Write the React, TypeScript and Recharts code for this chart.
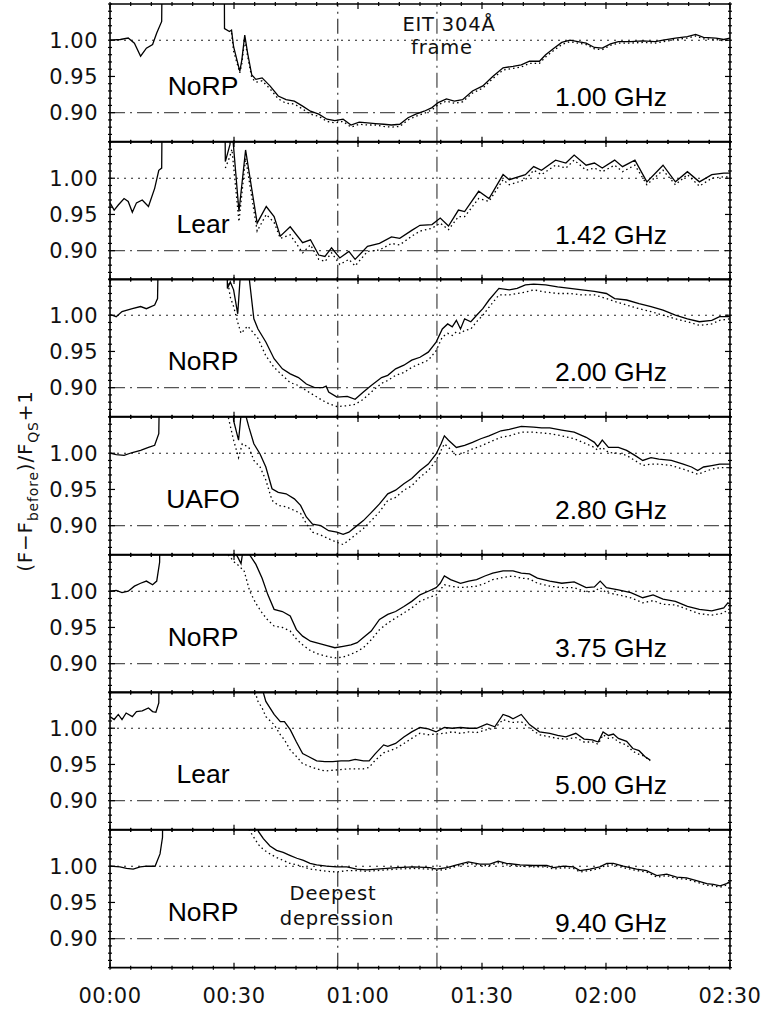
import React from "react";
import { LineChart, Line, XAxis, YAxis, ReferenceLine } from "recharts";

// time axis in minutes after 00:00, values are (F - F_before)/F_QS + 1
const xTicks = [0, 5, 10, 15, 20, 25, 30, 35, 40, 45, 50, 55, 60, 65, 70, 75, 80, 85, 90, 95, 100, 105, 110, 115, 120, 125, 130, 135, 140, 145, 150];
const xMajor = [0, 30, 60, 90, 120, 150];
const yTicks = [0.86, 0.87, 0.88, 0.89, 0.9, 0.91, 0.92, 0.93, 0.94, 0.95, 0.96, 0.97, 0.98, 0.99, 1.0, 1.01, 1.02, 1.03, 1.04, 1.05];
const yMajor = [0.9, 0.95, 1.0];
const yDomain = [0.86, 1.05];

const deepestTime = 55.1;
const eitTime = 79.1;

const observatories = ["NoRP", "Lear", "NoRP", "UAFO", "NoRP", "Lear", "NoRP"];
const frequencies = ["1.00 GHz", "1.42 GHz", "2.00 GHz", "2.80 GHz", "3.75 GHz", "5.00 GHz", "9.40 GHz"];

// 1.00 GHz
const p1Time = [0, 2.5, 4.4, 5.9, 7.4, 8.8, 10.3, 11.3, 12.5, 12.9, 27.5, 27.7, 28.9, 29.4, 29.9, 31.4, 31.9, 32.6, 33.3, 34.3, 35.3, 36.8, 38.7, 40.7, 42.6, 44.6, 46.6, 48.5, 50.5, 52.5, 54.4, 56.4, 58.3, 60.3, 62.3, 64.2, 66.2, 68.1, 70.1, 72.1, 74.0, 76.0, 77.9, 79.4, 81.4, 83.3, 85.3, 87.7, 90.2, 92.6, 95.1, 97.5, 99.5, 101.5, 103.9, 105.4, 107.4, 109.3, 111.3, 113.2, 115.2, 117.2, 119.1, 121.1, 123.0, 125.9, 128.9, 131.9, 133.8, 136.8, 139.7, 141.7, 143.6, 146.6, 148.5, 150];
const p1Solid = [1.000, 1.001, 1.003, 0.996, 0.978, 0.989, 0.994, 1.010, 1.026, 1.3, 1.3, 1.016, 1.012, 1.014, 0.991, 0.957, 0.973, 1.007, 0.982, 0.952, 0.946, 0.948, 0.937, 0.923, 0.918, 0.916, 0.909, 0.902, 0.898, 0.891, 0.889, 0.891, 0.883, 0.887, 0.886, 0.885, 0.884, 0.883, 0.884, 0.893, 0.898, 0.902, 0.907, 0.914, 0.919, 0.916, 0.918, 0.930, 0.937, 0.950, 0.962, 0.964, 0.966, 0.971, 0.971, 0.980, 0.989, 0.997, 1.000, 0.998, 0.996, 0.990, 0.989, 0.995, 0.998, 0.998, 0.999, 0.998, 1.000, 1.003, 1.005, 1.008, 1.004, 1.003, 1.001, 1.003];
const p1Dotted = [null, null, null, null, null, null, null, null, null, null, null, null, null, 1.010, 0.985, 0.955, 0.968, 1.002, 0.978, 0.948, 0.942, 0.944, 0.933, 0.919, 0.913, 0.912, 0.905, 0.898, 0.895, 0.888, 0.886, 0.888, 0.880, 0.884, 0.883, 0.883, 0.881, 0.880, 0.881, 0.890, 0.895, 0.899, 0.904, 0.911, 0.916, 0.913, 0.915, 0.927, 0.934, 0.947, 0.959, 0.961, 0.963, 0.968, 0.968, 0.977, 0.986, 0.994, 0.998, 0.996, 0.994, 0.988, 0.987, 0.993, 0.996, 0.996, 0.997, 0.996, 0.998, 1.001, 1.003, 1.006, 1.002, 1.001, 0.999, 1.001];

// 1.42 GHz
const p2Time = [0, 1.0, 2.0, 3.4, 4.4, 5.4, 6.4, 7.8, 9.3, 10.8, 11.8, 12.5, 12.9, 27.5, 27.9, 29.0, 29.5, 31.2, 32.8, 35.6, 37.8, 39.7, 41.2, 43.6, 46.6, 48.5, 50.5, 52.0, 53.6, 55.6, 57.8, 59.3, 62.3, 65.2, 68.1, 70.1, 73.0, 75.0, 77.9, 79.9, 81.9, 84.3, 85.8, 89.2, 91.7, 95.1, 96.6, 100.5, 102.5, 104.4, 107.8, 110.3, 112.3, 115.2, 117.2, 119.1, 122.1, 124.0, 127.0, 129.9, 133.8, 136.8, 139.7, 142.6, 145.6, 148.5, 150];
const p2Solid = [0.966, 0.956, 0.963, 0.972, 0.968, 0.953, 0.966, 0.970, 0.961, 0.986, 1.011, 1.014, 1.3, 1.3, 1.023, 1.046, 1.07, 0.954, 1.039, 0.938, 0.961, 0.947, 0.920, 0.933, 0.911, 0.915, 0.894, 0.892, 0.904, 0.890, 0.899, 0.888, 0.906, 0.910, 0.919, 0.917, 0.928, 0.935, 0.936, 0.945, 0.934, 0.956, 0.954, 0.982, 0.972, 1.005, 0.998, 1.005, 1.016, 1.011, 1.025, 1.021, 1.032, 1.018, 1.021, 1.014, 1.025, 1.016, 1.025, 0.995, 1.018, 0.995, 1.009, 0.995, 1.005, 1.007, 1.007];
const p2Dotted = [null, null, null, null, null, null, null, null, null, null, null, null, null, null, 1.014, 1.030, 1.040, 0.940, 1.028, 0.927, 0.950, 0.939, 0.917, 0.922, 0.897, 0.908, 0.888, 0.885, 0.897, 0.881, 0.888, 0.879, 0.899, 0.901, 0.910, 0.908, 0.920, 0.927, 0.931, 0.938, 0.929, 0.947, 0.947, 0.972, 0.968, 0.998, 0.991, 0.998, 1.011, 1.005, 1.018, 1.014, 1.025, 1.011, 1.014, 1.009, 1.018, 1.009, 1.018, 0.991, 1.011, 0.991, 1.005, 0.989, 1.000, 1.002, 1.002];

// 2.00 GHz
const p3Time = [0, 1.5, 2.9, 5.4, 7.4, 8.8, 10.8, 11.5, 12.3, 27.9, 28.4, 29.1, 29.9, 30.9, 31.7, 33.3, 34.8, 35.8, 37.7, 39.7, 41.7, 43.6, 45.6, 47.5, 49.5, 51.5, 52.3, 52.9, 54.9, 57.4, 59.3, 61.3, 63.2, 65.7, 67.2, 69.1, 71.1, 73.0, 75.0, 77.0, 78.9, 80.4, 81.7, 82.8, 83.8, 84.8, 85.8, 87.3, 88.7, 90.2, 91.7, 94.1, 96.6, 98.5, 100.5, 102.5, 105.4, 108.3, 111.3, 114.2, 117.2, 120.1, 122.1, 125.0, 128.0, 130.9, 133.8, 136.8, 139.7, 142.6, 145.6, 147.5, 150];
const p3Solid = [1.001, 0.998, 1.005, 1.009, 1.012, 1.009, 1.014, 1.023, 1.3, 1.3, 1.037, 1.046, 1.035, 1.002, 1.07, 1.07, 0.995, 0.981, 0.963, 0.940, 0.926, 0.919, 0.914, 0.905, 0.900, 0.900, 0.902, 0.894, 0.887, 0.888, 0.884, 0.894, 0.903, 0.914, 0.917, 0.926, 0.931, 0.938, 0.942, 0.949, 0.963, 0.981, 0.988, 0.984, 0.993, 0.981, 0.995, 0.991, 1.000, 1.009, 1.021, 1.037, 1.035, 1.037, 1.042, 1.043, 1.042, 1.039, 1.037, 1.035, 1.033, 1.030, 1.023, 1.021, 1.016, 1.012, 1.007, 1.000, 0.995, 0.991, 0.993, 0.998, 0.998];
const p3Dotted = [null, null, null, null, null, null, null, null, null, null, 1.05, 1.025, 1.012, 0.990, 0.975, 0.985, 0.975, 0.968, 0.944, 0.928, 0.917, 0.907, 0.903, 0.896, 0.889, 0.882, 0.880, 0.878, 0.874, 0.875, 0.877, 0.884, 0.894, 0.906, 0.910, 0.917, 0.921, 0.928, 0.933, 0.938, 0.951, 0.970, 0.975, 0.972, 0.977, 0.975, 0.979, 0.981, 0.991, 1.000, 1.011, 1.028, 1.028, 1.030, 1.032, 1.035, 1.032, 1.030, 1.030, 1.028, 1.028, 1.023, 1.019, 1.014, 1.009, 1.005, 1.000, 0.995, 0.991, 0.986, 0.988, 0.993, 0.995];

// 2.80 GHz
const p4Time = [0, 1.5, 3.4, 5.4, 7.4, 9.3, 10.8, 11.8, 12.5, 28.0, 28.4, 29.9, 31.1, 32.0, 33.6, 34.8, 36.3, 37.7, 39.2, 40.7, 42.6, 44.6, 46.1, 47.5, 49.0, 51.0, 52.9, 54.9, 56.4, 57.8, 59.3, 61.3, 63.2, 65.2, 67.2, 69.1, 71.1, 73.0, 75.0, 77.0, 78.9, 80.1, 80.9, 81.9, 83.8, 85.8, 87.7, 89.7, 91.7, 94.6, 96.6, 99.5, 102.5, 104.4, 106.4, 109.3, 112.3, 115.2, 117.2, 118.0, 119.1, 120.6, 123.0, 125.0, 127.0, 128.9, 130.9, 132.8, 135.8, 138.7, 140.7, 142.2, 143.6, 145.6, 147.5, 150];
const p4Solid = [1.000, 0.998, 0.997, 1.001, 1.004, 1.008, 1.011, 1.027, 1.3, 1.3, 1.3, 1.045, 1.018, 1.07, 1.036, 1.013, 0.999, 0.981, 0.951, 0.946, 0.944, 0.937, 0.928, 0.912, 0.902, 0.900, 0.893, 0.891, 0.888, 0.891, 0.898, 0.907, 0.918, 0.930, 0.944, 0.949, 0.958, 0.965, 0.976, 0.985, 0.999, 1.013, 1.024, 1.018, 1.008, 1.011, 1.015, 1.020, 1.024, 1.031, 1.033, 1.037, 1.036, 1.035, 1.035, 1.032, 1.029, 1.022, 1.015, 1.009, 1.018, 1.008, 1.008, 1.004, 0.997, 0.990, 0.994, 0.992, 0.990, 0.985, 0.981, 0.976, 0.981, 0.983, 0.985, 0.985];
const p4Dotted = [null, null, null, null, null, null, null, null, null, null, 1.055, 1.018, 0.994, 1.013, 1.008, 0.990, 0.981, 0.963, 0.935, 0.928, 0.926, 0.921, 0.917, 0.903, 0.891, 0.887, 0.882, 0.877, 0.874, 0.880, 0.887, 0.896, 0.907, 0.919, 0.935, 0.939, 0.949, 0.955, 0.967, 0.976, 0.990, 1.004, 1.013, 1.008, 0.997, 1.001, 1.006, 1.010, 1.015, 1.022, 1.024, 1.029, 1.029, 1.028, 1.027, 1.024, 1.020, 1.013, 1.008, 1.004, 1.008, 1.001, 1.000, 0.997, 0.990, 0.983, 0.985, 0.985, 0.983, 0.978, 0.974, 0.971, 0.974, 0.978, 0.980, 0.980];

// 3.75 GHz
const p5Time = [0, 1.5, 2.9, 4.4, 5.9, 7.4, 8.8, 10.3, 11.3, 12.0, 12.4, 27.9, 30.1, 31.0, 31.7, 32.4, 33.8, 35.3, 36.8, 38.2, 39.7, 41.7, 43.6, 45.1, 46.6, 48.5, 50.5, 52.5, 54.4, 56.4, 58.3, 59.8, 61.3, 63.2, 65.2, 67.2, 69.1, 71.1, 73.0, 75.0, 77.0, 78.9, 79.9, 80.9, 82.4, 84.8, 86.8, 88.7, 90.7, 92.6, 95.1, 97.5, 99.5, 101.5, 103.4, 106.4, 109.3, 112.3, 115.2, 117.2, 118.6, 120.1, 123.0, 126.0, 128.9, 131.4, 133.8, 136.8, 139.7, 142.6, 145.6, 148.5, 149.5, 150];
const p5Solid = [1.000, 1.001, 0.998, 1.000, 1.007, 1.011, 1.014, 1.009, 1.014, 1.040, 1.3, 1.3, 1.055, 1.046, 1.038, 1.065, 1.05, 1.037, 1.018, 0.995, 0.975, 0.972, 0.966, 0.947, 0.938, 0.931, 0.928, 0.925, 0.922, 0.924, 0.926, 0.929, 0.936, 0.945, 0.961, 0.968, 0.972, 0.979, 0.986, 0.995, 1.000, 1.005, 1.011, 1.021, 1.016, 1.011, 1.014, 1.016, 1.021, 1.025, 1.028, 1.028, 1.025, 1.024, 1.018, 1.014, 1.011, 1.013, 1.005, 1.006, 1.014, 1.005, 1.002, 0.998, 0.991, 0.995, 0.989, 0.986, 0.979, 0.975, 0.973, 0.977, 0.984, 0.982];
const p5Dotted = [null, null, null, null, null, null, null, null, null, null, null, 1.055, 1.040, 1.036, 1.032, 1.029, 1.000, 0.983, 0.970, 0.960, 0.952, 0.950, 0.945, 0.934, 0.926, 0.918, 0.913, 0.910, 0.908, 0.909, 0.913, 0.917, 0.922, 0.933, 0.947, 0.956, 0.963, 0.970, 0.977, 0.986, 0.991, 0.995, 1.002, 1.009, 1.007, 1.005, 1.006, 1.007, 1.011, 1.016, 1.019, 1.021, 1.018, 1.017, 1.011, 1.007, 1.005, 1.005, 0.999, 1.000, 1.005, 0.998, 0.995, 0.991, 0.984, 0.987, 0.982, 0.981, 0.975, 0.969, 0.967, 0.970, 0.975, 0.975];

// 5.00 GHz
const p6Time = [0, 1.0, 2.0, 2.9, 3.9, 5.4, 6.4, 7.8, 9.3, 10.3, 11.1, 11.8, 12.2, 34.8, 35.8, 36.8, 37.7, 39.7, 41.2, 42.2, 43.6, 45.1, 46.6, 48.0, 50.0, 52.0, 53.9, 55.9, 57.8, 59.3, 61.3, 62.7, 64.2, 66.2, 67.2, 69.1, 71.1, 73.0, 75.0, 77.0, 78.9, 80.9, 82.8, 84.8, 86.8, 88.7, 91.2, 93.1, 95.1, 96.6, 97.5, 99.5, 101.5, 103.9, 106.4, 108.3, 110.3, 112.7, 114.7, 116.7, 118.1, 119.3, 120.6, 121.8, 123.0, 125.0, 126.5, 128.0, 129.4, 130.7];
const p6Solid = [1.016, 1.012, 1.019, 1.012, 1.021, 1.016, 1.023, 1.024, 1.028, 1.023, 1.022, 1.035, 1.3, 1.3, 1.3, 1.055, 1.037, 1.019, 1.009, 1.009, 0.998, 0.981, 0.965, 0.961, 0.955, 0.954, 0.954, 0.955, 0.955, 0.957, 0.955, 0.955, 0.965, 0.977, 0.975, 0.979, 0.988, 0.995, 1.001, 0.999, 0.995, 1.001, 1.000, 1.001, 1.000, 1.000, 1.006, 1.002, 1.019, 1.016, 1.013, 1.019, 1.005, 0.995, 0.993, 0.990, 0.988, 0.993, 0.985, 0.984, 0.981, 0.995, 0.990, 0.992, 0.986, 0.982, 0.972, 0.969, 0.961, 0.956];
const p6Dotted = [null, null, null, null, null, null, null, null, null, null, null, null, null, 1.056, 1.037, 1.028, 1.016, 1.005, 0.991, 0.984, 0.970, 0.961, 0.951, 0.948, 0.944, 0.941, 0.942, 0.943, 0.944, 0.944, 0.944, 0.946, 0.956, 0.966, 0.968, 0.972, 0.979, 0.986, 0.993, 0.991, 0.992, 0.993, 0.995, 0.993, 0.995, 0.994, 0.998, 1.000, 1.012, 1.009, 1.008, 1.009, 1.000, 0.991, 0.988, 0.986, 0.985, 0.987, 0.981, 0.981, 0.978, 0.991, 0.986, 0.987, 0.981, 0.977, 0.968, 0.964, 0.961, 0.955];

// 9.40 GHz
const p7Time = [0, 2.4, 4.0, 5.6, 7.3, 8.9, 10.9, 12.1, 12.7, 13.0, 33.0, 35.9, 37.1, 38.7, 40.3, 41.9, 43.5, 45.2, 46.8, 48.4, 50.0, 52.4, 54.8, 57.3, 59.7, 62.1, 64.5, 66.9, 69.4, 73.4, 77.4, 79.0, 81.5, 83.9, 86.7, 89.5, 91.9, 93.9, 95.9, 99.2, 102.4, 105.7, 107.3, 109.7, 112.1, 113.7, 116.1, 118.5, 120.2, 121.8, 124.2, 127.4, 129.8, 132.3, 134.7, 137.1, 139.5, 141.9, 144.4, 146.0, 147.6, 149.2, 150];
const p7Solid = [1.000, 0.999, 0.997, 0.996, 0.999, 1.000, 1.000, 1.017, 1.040, 1.3, 1.3, 1.048, 1.038, 1.028, 1.022, 1.019, 1.015, 1.011, 1.008, 1.004, 1.002, 1.000, 0.999, 0.999, 0.996, 0.995, 0.996, 0.997, 0.998, 0.999, 0.998, 0.996, 0.998, 1.002, 1.006, 1.003, 1.003, 1.007, 1.004, 1.002, 1.001, 1.001, 0.998, 1.000, 0.999, 0.994, 0.996, 0.999, 1.004, 1.004, 1.000, 0.996, 0.994, 0.987, 0.989, 0.985, 0.984, 0.980, 0.976, 0.975, 0.973, 0.976, 0.979];
const p7Dotted = [null, null, null, null, null, null, null, null, null, null, 1.056, 1.030, 1.023, 1.017, 1.012, 1.008, 1.004, 1.002, 0.999, 0.996, 0.995, 0.993, 0.992, 0.994, 0.994, 0.993, 0.994, 0.995, 0.996, 0.997, 0.996, 0.994, 0.996, 1.000, 1.004, 1.001, 1.001, 1.005, 1.002, 1.000, 0.999, 0.999, 0.996, 0.998, 0.997, 0.992, 0.994, 0.997, 1.002, 1.002, 0.998, 0.994, 0.992, 0.985, 0.987, 0.983, 0.982, 0.978, 0.974, 0.973, 0.971, 0.974, 0.977];

const panels = [
  { time: p1Time, solid: p1Solid, dotted: p1Dotted },
  { time: p2Time, solid: p2Solid, dotted: p2Dotted },
  { time: p3Time, solid: p3Solid, dotted: p3Dotted },
  { time: p4Time, solid: p4Solid, dotted: p4Dotted },
  { time: p5Time, solid: p5Solid, dotted: p5Dotted },
  { time: p6Time, solid: p6Solid, dotted: p6Dotted },
  { time: p7Time, solid: p7Solid, dotted: p7Dotted },
];

const W = 763;
const H = 1009;
const PANEL_TOP = 4;
const PANEL_H = 137.67;
const PAD_TOP = 10;
const PAD_BOTTOM = 40;
const X_AXIS_H = 1; // an axis of zero height is not drawn
const AXIS = { stroke: "#000", strokeWidth: 1.6 };
const DASH_DOT = "15 5 2 5";

const tickFont = { fontFamily: "'DejaVu Sans', sans-serif", fontSize: 21, letterSpacing: 0.5, fill: "#111" };
const labelFont = { fontFamily: "'Liberation Sans', Arial, sans-serif", fontSize: 26.5, fill: "#000" };
const noteFont = { fontFamily: "'DejaVu Sans', sans-serif", fontSize: 19.5, letterSpacing: 0.8, fill: "#111" };

const isOn = (v: number, list: number[]) => list.some((m) => Math.abs(m - v) < 1e-6);
const pad2 = (n: number) => String(n).padStart(2, "0");
const fmtTime = (m: number) => `${pad2(Math.floor(m / 60))}:${pad2(m % 60)}`;

function LeftTick({ x, y, payload }: any) {
  const major = isOn(payload.value, yMajor);
  return (
    <g>
      <line x1={x} x2={x + (major ? 7 : 4)} y1={y} y2={y} stroke="#000" strokeWidth={1.2} />
      {major && (
        <text x={x - 10} y={y} dy="0.36em" textAnchor="end" {...tickFont}>
          {payload.value.toFixed(2)}
        </text>
      )}
    </g>
  );
}

function RightTick({ x, y, payload }: any) {
  const major = isOn(payload.value, yMajor);
  return <line x1={x} x2={x - (major ? 7 : 4)} y1={y} y2={y} stroke="#000" strokeWidth={1.2} />;
}

function BottomTick({ x, y, payload, showLabel }: any) {
  const major = isOn(payload.value, xMajor);
  return (
    <g>
      <line x1={x} x2={x} y1={y} y2={y - (major ? 7 : 4)} stroke="#000" strokeWidth={1.2} />
      {showLabel && major && (
        <text x={x} y={y + 26} dy="0.36em" textAnchor="middle" {...tickFont}>
          {fmtTime(payload.value)}
        </text>
      )}
    </g>
  );
}

function TopTick({ x, y, payload }: any) {
  const major = isOn(payload.value, xMajor);
  return <line x1={x} x2={x} y1={y} y2={y + (major ? 7 : 4)} stroke="#000" strokeWidth={1.2} />;
}

function Panel({ index, time, solid, dotted }: { index: number; time: number[]; solid: number[]; dotted: (number | null)[] }) {
  const rows = time.map((t, k) => ({ t, solid: solid[k], dotted: dotted[k] }));
  const last = index === panels.length - 1;
  return (
    <div style={{ position: "absolute", left: 0, top: PANEL_TOP + index * PANEL_H - PAD_TOP }}>
      <LineChart
        width={W}
        height={PANEL_H + PAD_TOP + PAD_BOTTOM}
        data={rows}
        margin={{ top: PAD_TOP - X_AXIS_H, right: 0, bottom: PAD_BOTTOM - X_AXIS_H, left: 0 }}
      >
        <XAxis
          xAxisId="b"
          dataKey="t"
          type="number"
          domain={[0, 150]}
          ticks={xTicks}
          interval={0}
          height={X_AXIS_H}
          tickSize={0}
          tickLine={false}
          axisLine={AXIS}
          tick={(p: any) => <BottomTick {...p} showLabel={last} />}
        />
        <XAxis
          xAxisId="t"
          orientation="top"
          dataKey="t"
          type="number"
          domain={[0, 150]}
          ticks={xTicks}
          interval={0}
          height={X_AXIS_H}
          tickSize={0}
          tickLine={false}
          axisLine={AXIS}
          tick={(p: any) => <TopTick {...p} />}
        />
        <YAxis
          yAxisId="l"
          width={110}
          type="number"
          domain={yDomain}
          allowDataOverflow
          ticks={yTicks}
          interval={0}
          tickSize={0}
          tickLine={false}
          axisLine={AXIS}
          tick={(p: any) => <LeftTick {...p} />}
        />
        <YAxis
          yAxisId="r"
          orientation="right"
          width={33}
          type="number"
          domain={yDomain}
          allowDataOverflow
          ticks={yTicks}
          interval={0}
          tickSize={0}
          tickLine={false}
          axisLine={AXIS}
          tick={(p: any) => <RightTick {...p} />}
        />
        <ReferenceLine xAxisId="b" yAxisId="l" y={1.0} stroke="#222" strokeWidth={1.1} strokeDasharray="2 5" />
        <ReferenceLine xAxisId="b" yAxisId="l" y={0.9} stroke="#555" strokeWidth={1.3} strokeDasharray={DASH_DOT} />
        <ReferenceLine xAxisId="b" yAxisId="l" x={deepestTime} stroke="#333" strokeWidth={1.2} strokeDasharray={DASH_DOT} />
        <ReferenceLine xAxisId="b" yAxisId="l" x={eitTime} stroke="#444" strokeWidth={1.2} strokeDasharray={DASH_DOT} />
        <Line
          xAxisId="b"
          yAxisId="l"
          type="linear"
          dataKey="dotted"
          stroke="#000"
          strokeWidth={1.3}
          strokeDasharray="1.5 3"
          dot={false}
          activeDot={false}
          connectNulls={false}
          isAnimationActive={false}
        />
        <Line
          xAxisId="b"
          yAxisId="l"
          type="linear"
          dataKey="solid"
          stroke="#000"
          strokeWidth={1.3}
          dot={false}
          activeDot={false}
          isAnimationActive={false}
        />
        <Line xAxisId="t" yAxisId="r" dataKey="solid" stroke="none" dot={false} activeDot={false} isAnimationActive={false} />
      </LineChart>
    </div>
  );
}

export default function App() {
  return (
    <div style={{ position: "absolute", left: 0, top: 0, width: W, height: H, background: "#fff" }}>
      {panels.map((p, i) => (
        <Panel key={i} index={i} time={p.time} solid={p.solid} dotted={p.dotted} />
      ))}
      <svg width={W} height={H} style={{ position: "absolute", left: 0, top: 0, pointerEvents: "none" }}>
        {observatories.map((name, i) => (
          <text key={`o${i}`} x={203} y={PANEL_TOP + i * PANEL_H + 91} textAnchor="middle" {...labelFont}>
            {name}
          </text>
        ))}
        {frequencies.map((f, i) => (
          <text key={`f${i}`} x={611} y={PANEL_TOP + i * PANEL_H + 102} textAnchor="middle" {...labelFont}>
            {f}
          </text>
        ))}
        <text x={449} y={31} textAnchor="middle" {...noteFont}>EIT 304Å</text>
        <text x={442} y={54} textAnchor="middle" {...noteFont}>frame</text>
        <text x={333} y={900} textAnchor="middle" {...noteFont}>Deepest</text>
        <text x={337} y={925} textAnchor="middle" {...noteFont}>depression</text>
        <text
          x={32}
          y={481}
          transform="rotate(-90 32 481)"
          textAnchor="middle"
          fontFamily="'DejaVu Sans', sans-serif"
          fontSize={20}
          letterSpacing={0.8}
          fill="#111"
        >
          (F−F
          <tspan fontSize={14} dy={6}>before</tspan>
          <tspan dy={-6}>)/F</tspan>
          <tspan fontSize={14} dy={6}>QS</tspan>
          <tspan dy={-6}>+1</tspan>
        </text>
      </svg>
    </div>
  );
}
